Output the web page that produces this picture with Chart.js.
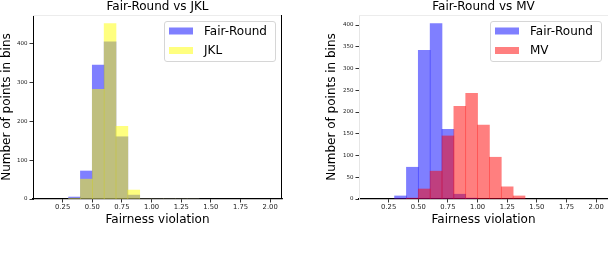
<!DOCTYPE html>
<html>
<head>
<meta charset="utf-8">
<script src="https://cdn.jsdelivr.net/npm/chart.js@4"></script>
<style>
  html, body { margin: 0; padding: 0; background: #fff; }
  #wrap { position: relative; width: 608px; height: 258px; overflow: hidden; }
  .box { position: absolute; top: 0; height: 258px; width: 304px; }
</style>
</head>
<body>
<div id="wrap">
  <div class="box" style="left:0"><canvas id="left"></canvas></div>
  <div class="box" style="left:304px"><canvas id="right"></canvas></div>
</div>
<script>
// histogram bins (width 0.1)
const binCenters = [0.35, 0.45, 0.55, 0.65, 0.75, 0.85, 0.95, 1.05, 1.15, 1.25, 1.35];
const fairRoundA = [5, 72, 344, 404, 160, 10, 0, 0, 0, 0, 0];
const jkl        = [2, 51, 282, 451, 187, 23, 0, 0, 0, 0, 0];
const fairRoundB = [7, 73, 342, 403, 160, 11, 2, 0, 0, 0, 0];
const mv         = [0, 2, 23, 64, 145, 213, 243, 170, 96, 28, 7];
const xTicks = [0.25, 0.5, 0.75, 1.0, 1.25, 1.5, 1.75, 2.0];
const yTicksLeft = [0, 100, 200, 300, 400];
const yTicksRight = [0, 50, 100, 150, 200, 250, 300, 350, 400];

const FONT = "'DejaVu Sans', sans-serif";

function pts(vals) {
  return binCenters.map((x, i) => ({ x: x, y: vals[i] }));
}

// titles, axis labels, matplotlib-style legend and spines
const decor = {
  id: 'decor',
  afterDraw(chart, args, o) {
    const c = chart.ctx, a = chart.chartArea;
    c.save();
    // spines
    c.lineWidth = 1;
    c.strokeStyle = '#ececec';
    c.beginPath();
    c.moveTo(a.left, a.top + 0.5); c.lineTo(a.right, a.top + 0.5);
    c.stroke();
    if (o.rightSpine) {
      c.strokeStyle = '#000';
      c.beginPath();
      c.moveTo(a.right - 0.5, a.top); c.lineTo(a.right - 0.5, a.bottom);
      c.stroke();
    }
    const cx = (a.left + a.right) / 2;
    c.fillStyle = '#000';
    c.font = '12px ' + FONT;
    c.textAlign = 'center';
    c.textBaseline = 'alphabetic';
    c.fillText(o.title, cx, 10);
    c.fillText('Fairness violation', cx, 223);
    c.save();
    c.translate(o.yLabelX, (a.top + a.bottom) / 2);
    c.rotate(-Math.PI / 2);
    c.textBaseline = 'middle';
    c.fillText('Number of points in bins', 0, 0);
    c.restore();
    // legend
    const bw = 111, bh = 40;
    const bx = a.right - 7 - bw, by = a.top + 6;
    c.beginPath();
    c.roundRect(bx + 0.5, by + 0.5, bw, bh, 2.5);
    c.fillStyle = 'rgba(255,255,255,0.8)';
    c.fill();
    c.strokeStyle = '#d6d6d6';
    c.stroke();
    c.textAlign = 'left';
    c.textBaseline = 'middle';
    o.items.forEach((it, i) => {
      const yy = by + 10 + i * 19.5;
      c.fillStyle = it.color;
      c.fillRect(bx + 5, yy - 3.5, 24, 7);
      c.fillStyle = '#000';
      c.fillText(it.label, bx + 40, yy + 0.5);
    });
    c.restore();
  }
};

function makeChart(id, sets, yMax, yTicks, opts) {
  return new Chart(document.getElementById(id), {
    type: 'bar',
    data: { datasets: sets },
    options: {
      responsive: true,
      maintainAspectRatio: false,
      animation: false,
      layout: { padding: { top: 15, right: opts.padRight, left: 0, bottom: 0 } },
      datasets: { bar: { grouped: false, barPercentage: 1, categoryPercentage: 1, borderWidth: 0 } },
      plugins: { legend: { display: false }, tooltip: { enabled: false }, decor: opts },
      scales: {
        x: {
          type: 'linear', min: 0, max: 2.1, offset: false,
          afterFit: s => { s.height = 59; },
          afterBuildTicks: s => { s.ticks = xTicks.map(v => ({ value: v })); },
          grid: { drawOnChartArea: false, offset: false, color: '#000', lineWidth: 0.8, tickLength: 3.5 },
          border: { color: '#000', width: 1.2 },
          ticks: { padding: 1, color: '#222', font: { family: FONT, size: 6.8 }, maxRotation: 0,
                   callback: v => Number(v).toFixed(2) }
        },
        y: {
          min: 0, max: yMax,
          afterFit: s => { s.width = opts.yWidth; },
          afterBuildTicks: s => { s.ticks = yTicks.map(v => ({ value: v })); },
          grid: { drawOnChartArea: false, color: '#000', lineWidth: 0.8, tickLength: 3.5 },
          border: { color: opts.leftSpine, width: 1 },
          ticks: { padding: 2, color: '#222', font: { family: FONT, size: 5.5 } }
        }
      }
    },
    plugins: [decor]
  });
}

makeChart('left', [
  { label: 'Fair-Round', data: pts(fairRoundA), backgroundColor: 'rgba(0,0,255,0.5)', order: 1 },
  { label: 'JKL', data: pts(jkl), backgroundColor: 'rgba(255,255,0,0.5)', order: 0 }
], 473, yTicksLeft, {
  title: 'Fair-Round vs JKL', yLabelX: 7, yWidth: 33, padRight: 22, rightSpine: true, leftSpine: '#000',
  items: [{ label: 'Fair-Round', color: 'rgba(0,0,255,0.5)' }, { label: 'JKL', color: 'rgba(255,255,0,0.5)' }]
});

makeChart('right', [
  { label: 'Fair-Round', data: pts(fairRoundB), backgroundColor: 'rgba(0,0,255,0.5)', order: 1 },
  { label: 'MV', data: pts(mv), backgroundColor: 'rgba(255,0,0,0.5)', order: 0 }
], 423, yTicksRight, {
  title: 'Fair-Round vs MV', yLabelX: 28, yWidth: 55, padRight: 0, rightSpine: false, leftSpine: '#e6e6e6',
  items: [{ label: 'Fair-Round', color: 'rgba(0,0,255,0.5)' }, { label: 'MV', color: 'rgba(255,0,0,0.5)' }]
});
</script>
</body>
</html>
